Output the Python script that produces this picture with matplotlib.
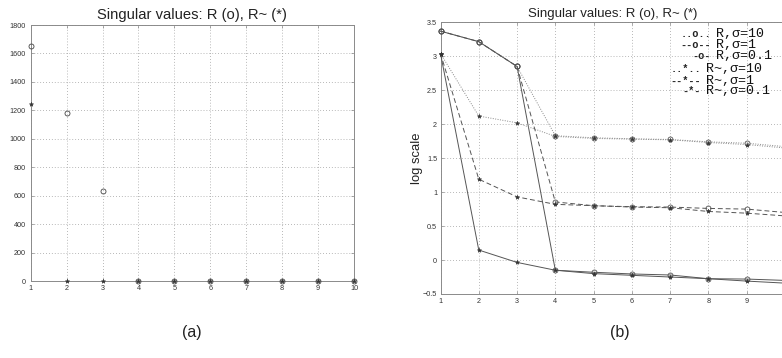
import matplotlib
matplotlib.use("Agg")
import matplotlib.pyplot as plt
from matplotlib.ticker import FuncFormatter

# singular value index
idx = [1, 2, 3, 4, 5, 6, 7, 8, 9, 10]

# (a) singular values on a linear scale
sv_R = [1650, 1183, 635, 0.71, 0.66, 0.62, 0.60, 0.54, 0.52, 0.50]
sv_Rt = [1246, 1.41, 0.92, 0.71, 0.63, 0.60, 0.56, 0.53, 0.49, 0.46]

# (b) log10 of the singular values for three noise levels
logR_s10 = [3.37, 3.215, 2.85, 1.83, 1.80, 1.785, 1.775, 1.74, 1.72, 1.67]
logR_s1 = [3.37, 3.215, 2.85, 0.855, 0.80, 0.785, 0.78, 0.76, 0.75, 0.70]
logR_s01 = [3.37, 3.215, 2.85, -0.15, -0.18, -0.205, -0.22, -0.275, -0.28, -0.30]
logRt_s10 = [3.04, 2.12, 2.02, 1.82, 1.79, 1.78, 1.77, 1.73, 1.70, 1.65]
logRt_s1 = [3.04, 1.19, 0.93, 0.82, 0.80, 0.78, 0.77, 0.715, 0.69, 0.65]
logRt_s01 = [3.04, 0.147, -0.035, -0.15, -0.20, -0.225, -0.25, -0.275, -0.31, -0.34]

yticks_a = [0, 200, 400, 600, 800, 1000, 1200, 1400, 1600, 1800]
yticks_b = [-0.5, 0, 0.5, 1, 1.5, 2, 2.5, 3, 3.5]

title = "Singular values: R (o), R~ (*)"
legend_marks = ["..o..", "--o--", "-o-", "..*..", "--*--", "-*-"]
legend_labels = ["R,\u03c3=10", "R,\u03c3=1", "R,\u03c3=0.1",
                 "R~,\u03c3=10", "R~,\u03c3=1", "R~,\u03c3=0.1"]

plt.rcParams["font.family"] = ["Liberation Sans", "DejaVu Sans"]

W, H = 782, 358
fig = plt.figure(figsize=(W / 100, H / 100), dpi=100)
fig.patch.set_facecolor("white")


def px_axes(x0, y0, x1, y1):
    return fig.add_axes([x0 / W, 1 - y1 / H, (x1 - x0) / W, (y1 - y0) / H])


def style(ax, yticks, pad_y):
    ax.set_xlim(1, 10)
    ax.set_xticks(idx)
    ax.set_yticks(yticks)
    ax.set_ylim(yticks[0], yticks[-1])
    fmt = FuncFormatter(lambda v, p: ("%g" % v).replace("-", "\u2212"))
    ax.yaxis.set_major_formatter(fmt)
    ax.xaxis.set_major_formatter(fmt)
    ax.grid(True, linestyle=(0, (1, 2.5)), color="#a0a0a0", linewidth=0.6)
    ax.set_axisbelow(True)
    for s in ax.spines.values():
        s.set_color("#8a8a8a")
        s.set_linewidth(0.7)
    ax.tick_params(axis="both", direction="in", length=2.5, width=0.5,
                   color="#8a8a8a", labelsize=5.2, labelcolor="#333333",
                   top=True, right=True)
    ax.tick_params(axis="y", pad=pad_y)
    ax.tick_params(axis="x", pad=3)


# ---- (a) linear scale ----
axa = px_axes(30.7, 25, 354, 281)
style(axa, yticks_a, 3.6)
axa.plot(idx, sv_R, linestyle="none", marker="o", markersize=3.6,
         markerfacecolor="none", markeredgecolor="#444444",
         markeredgewidth=0.6, clip_on=False, zorder=3)
axa.plot(idx, sv_Rt, linestyle="none", marker="*", markersize=3.2,
         color="#333333", markeredgewidth=0.4, clip_on=False, zorder=3)
axa.set_title(title, fontsize=10.6, pad=4, color="#222222")

# ---- (b) log scale ----
axb = px_axes(440.5, 22.3, 785, 294)
style(axb, yticks_b, 2.4)
series = [
    (logR_s10, (0, (1, 1.5)), "o", "#8a8a8a"),
    (logR_s1, (0, (5, 3)), "o", "#555555"),
    (logR_s01, "-", "o", "#555555"),
    (logRt_s10, (0, (1, 1.5)), "*", "#8a8a8a"),
    (logRt_s1, (0, (5, 3)), "*", "#555555"),
    (logRt_s01, "-", "*", "#555555"),
]
for vals, ls, mk, col in series:
    if mk == "o":
        axb.plot(idx, vals, linestyle=ls, color=col, linewidth=0.7,
                 marker="o", markersize=3.6, markerfacecolor="none",
                 markeredgecolor="#555555", markeredgewidth=0.6,
                 clip_on=False, zorder=3)
    else:
        axb.plot(idx, vals, linestyle=ls, color=col, linewidth=0.7,
                 marker="*", markersize=3.2, markerfacecolor="#333333",
                 markeredgecolor="#333333", markeredgewidth=0.4,
                 clip_on=False, zorder=3)
axb.set_title(title, fontsize=9.5, pad=4, color="#222222")
axb.set_ylabel("log scale", fontsize=9.4, labelpad=0, color="#222222")

# hand-made key in the upper right of (b)
row_y = [34, 45.3, 56, 69.3, 80.7, 91.3]
mark_end = [711, 711, 711, 701, 701, 701]
label_x = [715.7, 715.7, 715.7, 706, 706, 706]
mono = ["Liberation Mono", "DejaVu Sans Mono"]
for mk, lab, y, xe, xl in zip(legend_marks, legend_labels, row_y, mark_end, label_x):
    fig.text(xe / W, 1 - y / H, mk, ha="right", va="center",
             family=mono, fontsize=7.4, weight="bold", color="#222222")
    fig.text(xl / W, 1 - y / H, lab, ha="left", va="center",
             family=mono, fontsize=9.6, color="#111111")

# panel captions
fig.text(192 / W, 1 - 332 / H, "(a)", ha="center", va="center",
         fontsize=11.5, color="#222222")
fig.text(620 / W, 1 - 332 / H, "(b)", ha="center", va="center",
         fontsize=11.5, color="#222222")

fig.savefig("out.png", dpi=100, facecolor="white")
